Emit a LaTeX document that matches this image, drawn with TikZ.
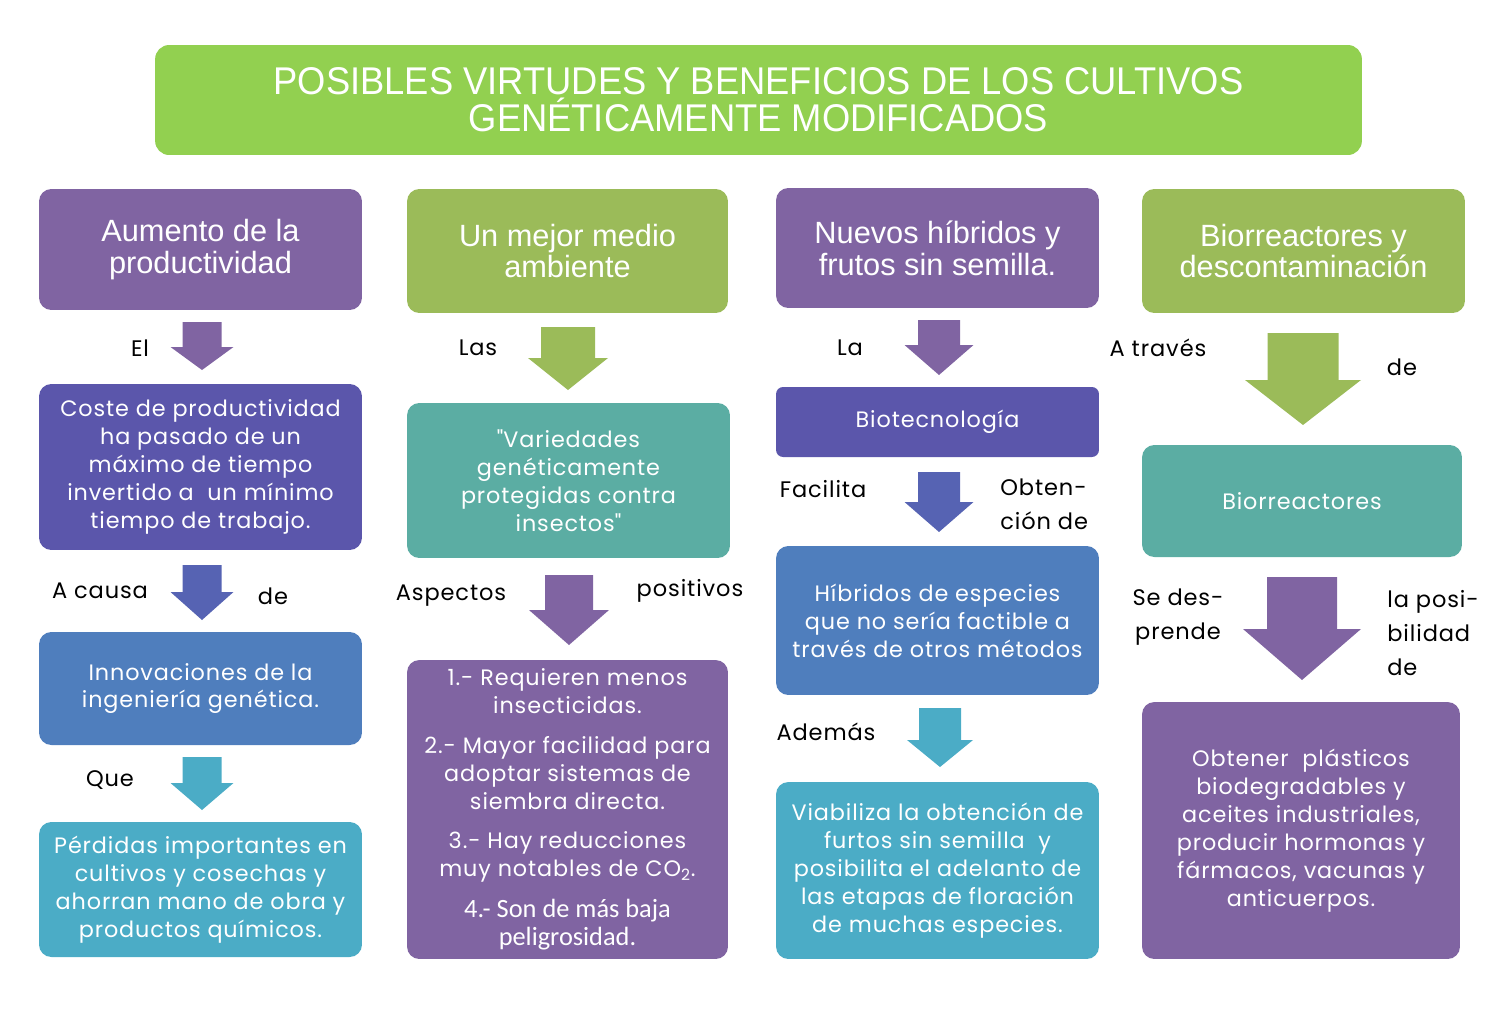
\documentclass[tikz,border=0pt]{standalone}
\usepackage{fontspec}
\setmainfont{Poppins}[LetterSpace=4]
\newfontfamily\headfont{Liberation Sans}
\newfontfamily\titlefont[FakeStretch=0.94]{Liberation Sans}
\newfontfamily\itemfont{Carlito}
\definecolor{cTitle}{HTML}{92D050}
\definecolor{cPurple}{HTML}{8064A2}
\definecolor{cIndigo}{HTML}{5B56AB}
\definecolor{cBlue}{HTML}{4F7EBD}
\definecolor{cMid}{HTML}{5663B3}
\definecolor{cCyan}{HTML}{4BACC6}
\definecolor{cGreen}{HTML}{9BBB59}
\definecolor{cTeal}{HTML}{5BADA3}
\newcommand\blockarrow[7]{%
  \fill[#1] (#2-#6,#3) -- (#2+#6,#3) -- (#2+#6,#4) -- (#2+#7,#4) -- (#2,#5)
    -- (#2-#7,#4) -- (#2-#6,#4) -- cycle;}
\newcommand\smallitem{\itemfont\fontsize{15}{16.5}\selectfont}
\begin{document}
\begin{tikzpicture}[x=0.02cm,y=-0.02cm,
  box/.style={rounded corners=7pt, inner sep=0pt, align=center, text=white,
    font=\fontsize{12.7}{15.9}\selectfont},
  head/.style={box, font=\headfont\fontsize{17.5}{18.2}\selectfont},
  lbl/.style={inner sep=0pt, text=black, font=\fontsize{12.8}{19.5}\selectfont}]
\useasboundingbox (0,0) rectangle (1497,1008);
% title
\node[box, fill=cTitle, rounded corners=8pt, minimum width=24.14cm, minimum height=2.2cm,
  font=\titlefont\fontsize{22}{21}\selectfont] (title) at (758.5,100)
  {POSIBLES VIRTUDES Y BENEFICIOS DE LOS CULTIVOS\\GENÉTICAMENTE MODIFICADOS};
% column 1
\node[head, fill=cPurple, minimum width=6.46cm, minimum height=2.42cm] (h1) at (200.5,249.5)
  {Aumento de la\\productividad};
\node[box, fill=cIndigo, minimum width=6.46cm, minimum height=3.32cm] (c1b) at (200.5,467)
  {Coste de productividad\\ha pasado de un\\máximo de tiempo\\invertido a \ un mínimo\\tiempo de trabajo.};
\node[box, fill=cBlue, minimum width=6.46cm, minimum height=2.26cm] (c1c) at (200.5,688.5)
  {Innovaciones de la\\ingeniería genética.};
\node[box, fill=cCyan, minimum width=6.46cm, minimum height=2.70cm] (c1d) at (200.5,889.5)
  {Pérdidas importantes en\\cultivos y cosechas y\\ahorran mano de obra y\\productos químicos.};
\blockarrow{cPurple}{202}{322}{347}{370}{19.5}{31.5}
\blockarrow{cMid}{202}{565}{592}{620}{19.5}{31.5}
\blockarrow{cCyan}{202}{757}{783}{810}{19.5}{31.5}
\node[lbl] (lEl) at (140,348) {El};
\node[lbl] (lCausa) at (100,591) {A causa};
\node[lbl] (lDe1) at (273,596) {de};
\node[lbl] (lQue) at (110,780) {Que};
% column 2
\node[head, fill=cGreen, minimum width=6.42cm, minimum height=2.48cm] (h2) at (567.5,251)
  {Un mejor medio\\ambiente};
\node[box, fill=cTeal, minimum width=6.46cm, minimum height=3.10cm] (c2b) at (568.5,480.5)
  {\textquotedbl Variedades\\genéticamente\\protegidas contra\\insectos\textquotedbl};
\node[box, fill=cPurple, minimum width=6.42cm, minimum height=5.98cm] (c2c) at (567.5,809.5)
  {1.- Requieren menos\\insecticidas.\\[7pt]2.- Mayor facilidad para\\adoptar sistemas de\\siembra directa.\\[6pt]3.- Hay reducciones\\muy notables de CO\textsubscript{2}.\\[8pt]\smallitem 4.- Son de más baja\\\smallitem peligrosidad.};
\blockarrow{cGreen}{568}{327}{358}{390}{27}{40}
\blockarrow{cPurple}{569}{575}{610}{645}{24}{40}
\node[lbl] (lLas) at (478,348) {Las};
\node[lbl] (lAsp) at (451,596) {Aspectos};
\node[lbl] (lPos) at (690,591) {positivos};
% column 3
\node[head, fill=cPurple, minimum width=6.46cm, minimum height=2.40cm] (h3) at (937.5,248)
  {Nuevos híbridos y\\frutos sin semilla.};
\node[box, fill=cIndigo, rounded corners=4pt, minimum width=6.46cm, minimum height=1.40cm] (c3b) at (937.5,422)
  {Biotecnología};
\node[box, fill=cBlue, minimum width=6.46cm, minimum height=2.98cm] (c3c) at (937.5,620.5)
  {Híbridos de especies\\que no sería factible a\\través de otros métodos};
\node[box, fill=cCyan, minimum width=6.46cm, minimum height=3.54cm] (c3d) at (937.5,870.5)
  {Viabiliza la obtención de\\furtos sin semilla \ y\\posibilita el adelanto de\\las etapas de floración\\de muchas especies.};
\blockarrow{cPurple}{939}{320}{345}{375}{21}{34.5}
\blockarrow{cMid}{939}{472}{502}{532}{21}{34.5}
\blockarrow{cCyan}{940}{708}{740}{767}{21}{33}
\node[lbl] (lLa) at (850,348) {La};
\node[lbl] (lFac) at (823,489) {Facilita};
\node[lbl, align=left, anchor=west] (lObt) at (1000,504) {Obten-\\ción de};
\node[lbl] (lAdem) at (826,732) {Además};
% column 4
\node[head, fill=cGreen, minimum width=6.46cm, minimum height=2.48cm] (h4) at (1303.5,251)
  {Biorreactores y\\descontaminación};
\node[box, fill=cTeal, minimum width=6.40cm, minimum height=2.24cm] (c4b) at (1302,501)
  {Biorreactores};
\node[box, fill=cPurple, minimum width=6.36cm, minimum height=5.14cm] (c4c) at (1301,830.5)
  {Obtener \ plásticos\\biodegradables y\\aceites industriales,\\producir hormonas y\\fármacos, vacunas y\\anticuerpos.};
\blockarrow{cGreen}{1303}{333}{380}{425}{35.5}{58}
\blockarrow{cPurple}{1302}{577}{629}{680}{35}{59}
\node[lbl] (lTrav) at (1158,348) {A través};
\node[lbl] (lDe4) at (1402,367) {de};
\node[lbl, align=center] (lSe) at (1178,617) {Se des-\\prende};
\node[lbl, align=left, anchor=west] (lPosi) at (1387,633) {la posi-\\bilidad\\de};
\end{tikzpicture}
\end{document}
